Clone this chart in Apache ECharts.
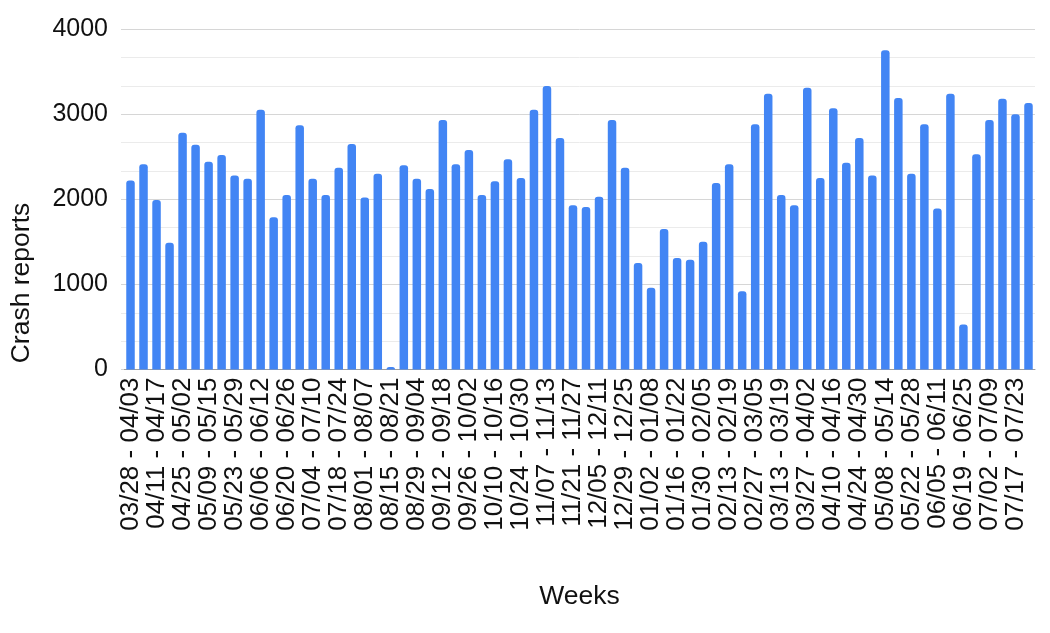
<!DOCTYPE html>
<html>
<head>
<meta charset="utf-8">
<script src="https://cdn.jsdelivr.net/npm/echarts@6/dist/echarts.min.js"></script>
<style>
  html, body { margin: 0; padding: 0; background: #fff; }
  #chart { width: 1050px; height: 633px; }
</style>
</head>
<body>
<div id="chart"></div>
<script>
// weekly buckets, as labelled on the axis
const weeks = [
  '03/28 - 04/03', '04/04 - 04/10', '04/11 - 04/17', '04/18 - 04/24', '04/25 - 05/02',
  '05/03 - 05/08', '05/09 - 05/15', '05/16 - 05/22', '05/23 - 05/29', '05/30 - 06/05',
  '06/06 - 06/12', '06/13 - 06/19', '06/20 - 06/26', '06/27 - 07/03', '07/04 - 07/10',
  '07/11 - 07/17', '07/18 - 07/24', '07/25 - 07/31', '08/01 - 08/07', '08/08 - 08/14',
  '08/15 - 08/21', '08/22 - 08/28', '08/29 - 09/04', '09/05 - 09/11', '09/12 - 09/18',
  '09/19 - 09/25', '09/26 - 10/02', '10/03 - 10/09', '10/10 - 10/16', '10/17 - 10/23',
  '10/24 - 10/30', '10/31 - 11/06', '11/07 - 11/13', '11/14 - 11/20', '11/21 - 11/27',
  '11/28 - 12/04', '12/05 - 12/11', '12/12 - 12/18', '12/29 - 12/25', '12/26 - 01/01',
  '01/02 - 01/08', '01/09 - 01/15', '01/16 - 01/22', '01/23 - 01/29', '01/30 - 02/05',
  '02/06 - 02/12', '02/13 - 02/19', '02/20 - 02/26', '02/27 - 03/05', '03/06 - 03/12',
  '03/13 - 03/19', '03/20 - 03/26', '03/27 - 04/02', '04/03 - 04/09', '04/10 - 04/16',
  '04/17 - 04/23', '04/24 - 04/30', '05/01 - 05/07', '05/08 - 05/14', '05/15 - 05/21',
  '05/22 - 05/28', '05/29 - 06/04', '06/05 - 06/11', '06/12 - 06/18', '06/19 - 06/25',
  '06/26 - 07/01', '07/02 - 07/09', '07/10 - 07/16', '07/17 - 07/23', '07/24 - 07/30'
];

const crashReports = [
  2220, 2410, 1990, 1490, 2780, 2640, 2440, 2520, 2280, 2240,
  3050, 1790, 2050, 2870, 2240, 2050, 2370, 2650, 2020, 2300,
  30, 2400, 2240, 2120, 2930, 2410, 2580, 2050, 2210, 2470,
  2250, 3050, 3330, 2720, 1930, 1910, 2030, 2930, 2370, 1250,
  960, 1650, 1310, 1290, 1500, 2190, 2410, 920, 2880, 3240,
  2050, 1930, 3310, 2250, 3070, 2430, 2720, 2280, 3750, 3190,
  2300, 2880, 1890, 3240, 530, 2530, 2930, 3180, 3000, 3130
];

const yTicks = [0, 1000, 2000, 3000, 4000];

const chart = echarts.init(document.getElementById('chart'));
const font = 'Liberation Sans, Arial, sans-serif';

chart.setOption({
  animation: false,
  grid: { left: 124, right: 15, top: 29, bottom: 263.5 },
  // y axis title sits low in the original, so it is placed by hand
  graphic: [{
    type: 'text',
    x: 22,
    y: 283,
    rotation: Math.PI / 2,
    style: {
      text: 'Crash reports',
      fontSize: 26.5,
      fontFamily: font,
      fill: '#111',
      align: 'center',
      verticalAlign: 'middle'
    }
  }],
  xAxis: {
    type: 'category',
    data: weeks,
    name: 'Weeks',
    nameLocation: 'middle',
    nameGap: 214,
    nameTextStyle: { fontSize: 26.5, color: '#111', fontFamily: font },
    axisLine: { lineStyle: { color: '#9e9e9e', width: 1 } },
    axisTick: { show: false },
    axisLabel: {
      interval: 1,
      rotate: 90,
      margin: 8,
      fontSize: 26,
      color: '#111',
      fontFamily: font,
      showMinLabel: true,
      hideOverlap: false
    }
  },
  yAxis: {
    type: 'value',
    min: yTicks[0],
    max: yTicks[yTicks.length - 1],
    interval: 1000,
    axisLine: { show: false },
    axisTick: { show: true, length: 3, lineStyle: { color: '#d6d6d6' } },
    minorTick: { show: true, splitNumber: 3, length: 3, lineStyle: { color: '#ebebeb' } },
    axisLabel: {
      fontSize: 25,
      color: '#111',
      fontFamily: font,
      margin: 16,
      formatter: (v) => String(v)
    },
    splitLine: { lineStyle: { color: '#d6d6d6', width: 1 } },
    minorSplitLine: { show: true, lineStyle: { color: '#ebebeb', width: 1 } }
  },
  series: [{
    type: 'bar',
    data: crashReports,
    barWidth: 8.5,
    itemStyle: { color: '#4285f4', borderRadius: [3, 3, 0, 0] }
  }]
});
</script>
</body>
</html>
